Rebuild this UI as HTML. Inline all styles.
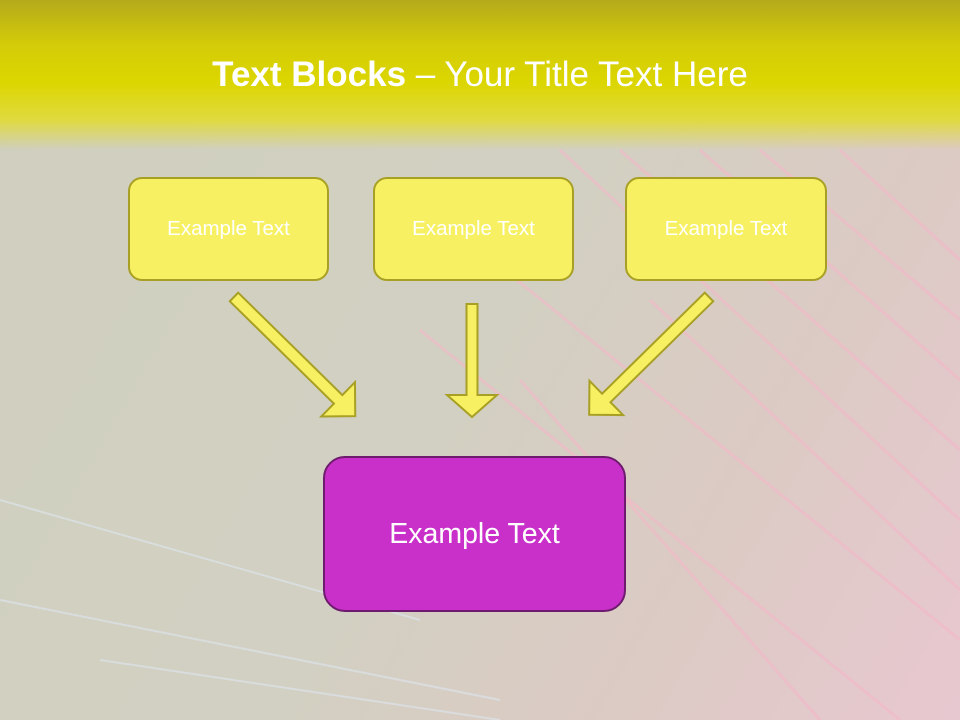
<!DOCTYPE html>
<html><head><meta charset="utf-8"><style>
body{margin:0;width:960px;height:720px;overflow:hidden;font-family:"Liberation Sans",sans-serif;}
#bg{position:absolute;left:0;top:0;width:960px;height:720px;background:linear-gradient(120deg,#cfcfbf 0%,#d2d0c2 50%,#dccac4 75%,#e8c8d0 100%);}
#hdr{position:absolute;left:0;top:0;width:960px;height:150px;background:linear-gradient(180deg,#b4aa1c 0%,#d4cc08 30%,#dcd600 55%,#e0da40 80%,rgba(224,218,120,0) 100%);}
.t{position:absolute;left:0;width:960px;top:55px;text-align:center;color:#fff;font-size:35px;}
.box{position:absolute;box-sizing:border-box;background:#f7f062;border:2px solid #a8a024;border-radius:14px;color:#fff;font-size:20.5px;display:flex;align-items:center;justify-content:center;}
</style></head><body>
<div id="bg"></div>
<svg style="position:absolute;left:0;top:0" width="960" height="720">
<g stroke="#f4b8c8" stroke-opacity="0.6" stroke-width="3">
<line x1="560" y1="150" x2="960" y2="520"/><line x1="620" y1="150" x2="960" y2="450"/><line x1="700" y1="150" x2="960" y2="380"/>
<line x1="480" y1="250" x2="960" y2="640"/><line x1="760" y1="150" x2="960" y2="320"/><line x1="420" y1="330" x2="900" y2="720"/>
<line x1="520" y1="380" x2="820" y2="720"/><line x1="840" y1="150" x2="960" y2="260"/><line x1="650" y1="300" x2="960" y2="590"/>
</g>
<g stroke="#dde6f0" stroke-opacity="0.6" stroke-width="2">
<line x1="0" y1="500" x2="420" y2="620"/><line x1="0" y1="600" x2="500" y2="700"/><line x1="100" y1="660" x2="500" y2="720"/>
</g>
</svg>
<div id="hdr"></div>
<div class="t"><b>Text Blocks</b> – Your Title Text Here</div>
<div class="box" style="left:128px;top:177px;width:201px;height:104px">Example Text</div>
<div class="box" style="left:373px;top:177px;width:201px;height:104px">Example Text</div>
<div class="box" style="left:625px;top:177px;width:202px;height:104px">Example Text</div>
<svg style="position:absolute;left:0;top:0" width="960" height="720">
<g fill="#f7f062" stroke="#a8a024" stroke-width="2" stroke-linejoin="miter">
<path transform="translate(234,297) rotate(44.5)" d="M0,-6 L146,-6 L146,-24 L170,0 L146,24 L146,6 L0,6 Z"/>
<path transform="translate(472,304) rotate(90)" d="M0,-5.5 L91,-5.5 L91,-25 L113,0 L91,25 L91,5.5 L0,5.5 Z"/>
<path transform="translate(709,297) rotate(135.5)" d="M0,-6 L144,-6 L144,-24 L168,0 L144,24 L144,6 L0,6 Z"/>
</g>
</svg>
<div class="box" style="left:323px;top:456px;width:303px;height:156px;background:#c930c9;border-color:#6e1a6e;border-radius:22px;font-size:28.5px">Example Text</div>
</body></html>
